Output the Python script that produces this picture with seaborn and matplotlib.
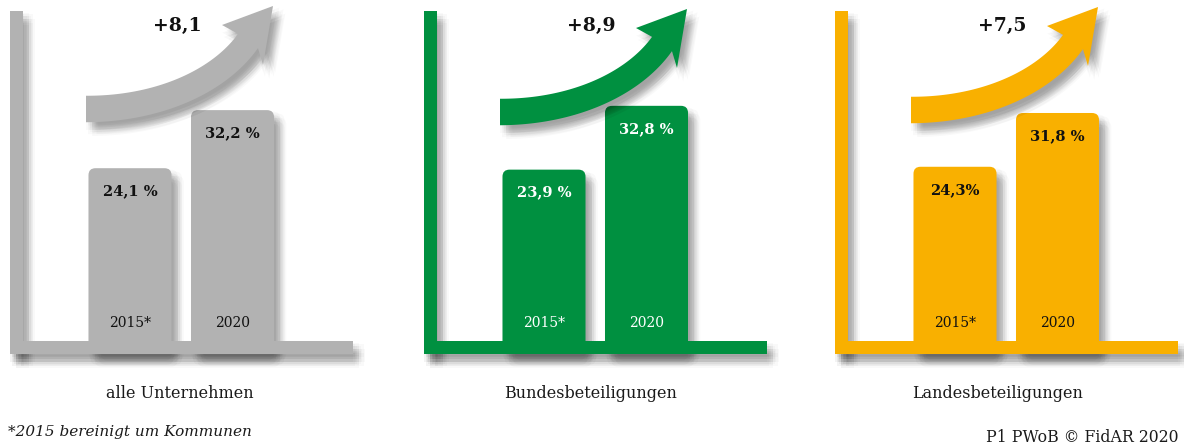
import numpy as np
import pandas as pd
import matplotlib
matplotlib.use("Agg")
import matplotlib.pyplot as plt
import matplotlib.patheffects as pe
from matplotlib.patches import FancyBboxPatch, Rectangle, Polygon
import seaborn as sns

# ---------------- data ----------------
years = ["2015*", "2020"]
groups = ["alle Unternehmen", "Bundesbeteiligungen", "Landesbeteiligungen"]
share_alle = [24.1, 32.2]
share_bund = [23.9, 32.8]
share_land = [24.3, 31.8]
labels_alle = ["24,1 %", "32,2 %"]
labels_bund = ["23,9 %", "32,8 %"]
labels_land = ["24,3%", "31,8 %"]
colors = ["#b2b2b2", "#009040", "#f9b000"]
text_colors = ["#111111", "white", "#111111"]
footnote = "*2015 bereinigt um Kommunen"
source = "P1 PWoB \u00a9 FidAR 2020"

shares = [share_alle, share_bund, share_land]
labels = [labels_alle, labels_bund, labels_land]

# ---------------- layout ----------------
sns.set_theme(style="white")
plt.rcParams["font.family"] = ["DejaVu Serif"]

W, H = 1184, 448
fig = plt.figure(figsize=(W / 100, H / 100), dpi=100)
PX_X = 102.5   # pixels per category step
PX_Y = 7.17    # pixels per percent
lefts = [10, 424, 835]
arrow_dy = [-3, 0, -2]
label_centers = [180, 591, 998]


def shadow(strength=0.025, cx=4.5, cy=-5.5, rad=(2.2, 4.4)):
    offs = [(cx, cy)]
    for r in rad:
        for a in np.linspace(0, 2 * np.pi, 8, endpoint=False):
            offs.append((cx + r * np.cos(a), cy + r * np.sin(a)))
    effs = [pe.SimplePatchShadow(offset=o, shadow_rgbFace="black", alpha=strength)
            for o in offs]
    return effs + [pe.Normal()]


for i in range(3):
    L = lefts[i]
    c = colors[i]
    tc = text_colors[i]
    ax = fig.add_axes([L / W, (H - 354) / H, 343 / W, 354 / H])
    df = pd.DataFrame({"Jahr": years, "Anteil": shares[i]})
    sns.barplot(data=df, x="Jahr", y="Anteil", hue="Jahr", palette=[c, c],
                width=0.81, legend=False, ax=ax, saturation=1, errorbar=None)
    ax.set_xlim(-120 / PX_X, 223 / PX_X)
    ax.set_ylim(-13 / PX_Y, 341 / PX_Y)
    ax.set_axis_off()

    for j, p in enumerate(list(ax.patches)):
        x0, w, h = p.get_x(), p.get_width(), p.get_height()
        p.set_visible(False)
        fb = FancyBboxPatch((x0, -12 / PX_Y), w, h + 12 / PX_Y,
                            boxstyle=f"round,pad=0,rounding_size={7 / PX_X}",
                            mutation_aspect=PX_X / PX_Y, fc=c, ec="none",
                            zorder=2, clip_on=False, path_effects=shadow())
        ax.add_patch(fb)
        xc = x0 + w / 2
        ax.annotate(labels[i][j], (xc, h), xytext=(0, -23 * 0.72),
                    textcoords="offset points", ha="center", va="center",
                    fontsize=10.5, fontweight="bold", color=tc, zorder=5)
        ax.annotate(years[j], (xc, 0), xytext=(0, 18 * 0.72),
                    textcoords="offset points", ha="center", va="center",
                    fontsize=10, color=tc, zorder=5)

    xl = -120 / PX_X
    vert = Rectangle((xl, -13 / PX_Y), 12.5 / PX_X, 343 / PX_Y, fc=c, ec="none",
                     zorder=3, clip_on=False, path_effects=shadow())
    hor = Rectangle((xl, -13 / PX_Y), 343 / PX_X, 13 / PX_Y, fc=c, ec="none",
                    zorder=3, clip_on=False, path_effects=shadow())
    ax.add_patch(vert)
    ax.add_patch(hor)

# ---------------- overlay (arrows, texts) ----------------
ov = fig.add_axes([0, 0, 1, 1], zorder=10)
ov.set_xlim(0, W)
ov.set_ylim(H, 0)
ov.set_axis_off()
ov.patch.set_alpha(0)


def arrow_poly(L, dy):
    # smooth cubic centreline (pixel offsets relative to the panel's left edge)
    P0 = np.array([76.0, 112.0])
    P3 = np.array([238.0, 44.0])
    tip = np.array([263.0, 9.0])
    u = (tip - P3) / np.linalg.norm(tip - P3)
    d0 = np.array([1.0, 0.0])
    P1 = P0 + 72 * d0
    P2 = P3 - 50 * u
    t = np.linspace(0, 1, 80)[:, None]
    B = ((1 - t) ** 3 * P0 + 3 * (1 - t) ** 2 * t * P1 +
         3 * (1 - t) * t ** 2 * P2 + t ** 3 * P3)
    D = (3 * (1 - t) ** 2 * (P1 - P0) + 6 * (1 - t) * t * (P2 - P1) +
         3 * t ** 2 * (P3 - P2))
    D = D / np.linalg.norm(D, axis=1, keepdims=True)
    N = np.column_stack([-D[:, 1], D[:, 0]])
    half = (26.5 - 2.0 * t) / 2
    upper = B - half * N
    lower = B + half * N
    head = np.array([(212.0, 28.0), tuple(tip), (253.0, 68.0)])
    pts = np.vstack([upper, head, lower[::-1]])
    return pts + np.array([L, dy])


for i in range(3):
    L = lefts[i]
    poly = Polygon(arrow_poly(L, arrow_dy[i]), closed=True, fc=colors[i],
                   ec="none", path_effects=shadow(0.025))
    ov.add_patch(poly)
    delta = shares[i][1] - shares[i][0]
    ov.text(L + 167, 26, f"+{delta:.1f}".replace(".", ","), ha="center",
            va="center", fontsize=13.5, fontweight="bold", color="#111111")
    ov.text(label_centers[i], 394, groups[i], ha="center", va="center",
            fontsize=11.5, color="#1a1a1a")

ov.text(8, 432, footnote, ha="left", va="center", fontsize=11,
        style="italic", color="#1a1a1a")
ov.text(1178, 437, source, ha="right", va="center", fontsize=11.3,
        color="#1a1a1a")

fig.savefig("out.png", dpi=100)
